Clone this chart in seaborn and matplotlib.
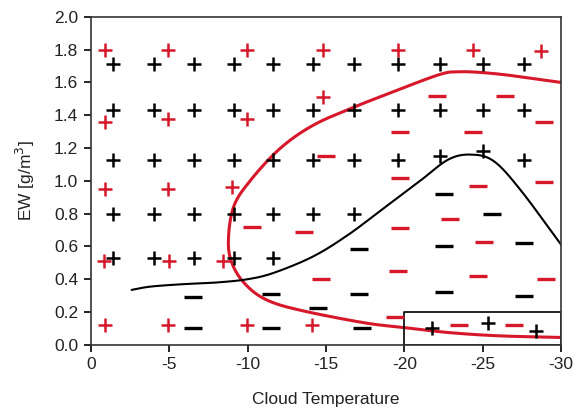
import numpy as np
import pandas as pd
import matplotlib
matplotlib.use("Agg")
import matplotlib.pyplot as plt
import seaborn as sns

# ---- data ----
black_plus_x = [-1.4, -4.0, -6.6, -9.1, -11.6, -14.2, -16.8, -19.6, -22.3, -25.0, -27.6,
                -1.4, -4.0, -6.6, -9.1, -11.6, -14.2, -16.8, -19.6, -22.3, -25.0, -27.6,
                -1.4, -4.0, -6.6, -9.1, -11.6, -14.2, -16.8, -19.6, -22.3, -25.0, -27.6,
                -1.4, -4.0, -6.6, -9.1, -11.6, -14.2, -16.8,
                -1.4, -4.0, -6.6, -9.1, -11.6,
                -21.75, -25.3, -28.4]
black_plus_y = [1.71] * 11 + [1.43] * 11 + \
               [1.13, 1.13, 1.13, 1.13, 1.13, 1.13, 1.13, 1.13, 1.15, 1.18, 1.13] + \
               [0.80] * 7 + [0.53] * 5 + [0.10, 0.135, 0.085]

red_plus_x = [-0.9, -4.93, -9.98, -14.8, -19.6, -24.4, -28.7,
              -0.9, -4.93, -9.98, -14.8,
              -0.9, -4.93, -9.0,
              -0.85, -5.0, -8.45,
              -0.9, -4.93, -9.98, -14.1]
red_plus_y = [1.80, 1.80, 1.80, 1.80, 1.80, 1.80, 1.79,
              1.36, 1.38, 1.38, 1.51,
              0.95, 0.95, 0.96,
              0.51, 0.51, 0.51,
              0.12, 0.12, 0.12, 0.12]

red_minus_x = [-22.1, -26.4, -28.9, -19.7, -24.4, -15.0, -19.7, -24.7, -28.9,
               -10.3, -13.6, -19.7, -22.9, -25.1, -14.7, -19.6, -24.7, -29.0,
               -19.4, -23.5, -27.0]
red_minus_y = [1.52, 1.52, 1.36, 1.30, 1.30, 1.15, 1.02, 0.97, 0.99,
               0.72, 0.69, 0.71, 0.77, 0.63, 0.40, 0.45, 0.42, 0.40,
               0.17, 0.12, 0.12]

black_minus_x = [-22.5, -25.6, -17.1, -22.5, -27.6, -17.1, -22.5, -27.6, -14.5, -17.3,
                 -6.5, -6.5, -11.5, -11.5]
black_minus_y = [0.92, 0.80, 0.585, 0.60, 0.62, 0.31, 0.32, 0.30, 0.225, 0.10,
                 0.29, 0.10, 0.31, 0.10]

red_curve_x = [-30.0, -27.0, -25.0, -23.5, -22.3, -19.6, -16.8, -14.2, -12.1,
               -10.2, -9.1, -8.77, -9.1, -10.0, -11.3, -13.4,
               -17.4, -20.0, -22.8, -26.0, -30.0]
red_curve_y = [1.60, 1.64, 1.66, 1.665, 1.65, 1.555, 1.45, 1.34, 1.20,
               1.005, 0.84, 0.62, 0.475, 0.355, 0.27, 0.21,
               0.135, 0.105, 0.075, 0.055, 0.045]

black_curve_x = [-2.6, -3.8, -5.9, -8.0, -10.0, -11.7, -14.2, -16.4, -18.5,
                 -21.0, -22.8, -24.25, -25.7, -27.4, -30.0]
black_curve_y = [0.335, 0.355, 0.37, 0.38, 0.40, 0.44, 0.54, 0.67, 0.82,
                 1.00, 1.13, 1.16, 1.12, 0.945, 0.61]

box_x = [-20, -30, -30, -20, -20]
box_y = [0.0, 0.0, 0.2, 0.2, 0.0]

x_ticks = [0, -5, -10, -15, -20, -25, -30]
x_tick_labels = ["0", "-5", "-10", "-15", "-20", "-25", "-30"]
y_ticks = [0.0, 0.2, 0.4, 0.6, 0.8, 1.0, 1.2, 1.4, 1.6, 1.8, 2.0]

RED = "#d7182a"

sns.set_theme(style="white")
plt.rcParams["font.family"] = ["Liberation Sans", "DejaVu Sans"]

fig = plt.figure(figsize=(5.75, 4.11), dpi=100)
ax = fig.add_axes([0.158, 0.161, 0.818, 0.798])


def catmull_rom(xs, ys, n=30):
    # centripetal-free uniform Catmull-Rom through the read points (scaled to axes units)
    P = np.column_stack([np.asarray(xs, float) / 30.0, np.asarray(ys, float) / 2.0])
    P = np.vstack([2 * P[0] - P[1], P, 2 * P[-1] - P[-2]])
    out = []
    t = np.linspace(0, 1, n, endpoint=False)[:, None]
    for i in range(1, len(P) - 2):
        p0, p1, p2, p3 = P[i - 1], P[i], P[i + 1], P[i + 2]
        seg = 0.5 * ((2 * p1) + (-p0 + p2) * t + (2 * p0 - 5 * p1 + 4 * p2 - p3) * t ** 2
                     + (-p0 + 3 * p1 - 3 * p2 + p3) * t ** 3)
        out.append(seg)
    out.append(P[-2][None, :])
    out = np.vstack(out)
    return out[:, 0] * 30.0, out[:, 1] * 2.0


rx, ry = catmull_rom(red_curve_x, red_curve_y)
bx, by = catmull_rom(black_curve_x, black_curve_y)
sns.lineplot(x=rx, y=ry, sort=False, estimator=None, color=RED, lw=2.2, ax=ax)
sns.lineplot(x=bx, y=by, sort=False, estimator=None, color="black", lw=1.5, ax=ax)
sns.lineplot(x=box_x, y=box_y, sort=False, estimator=None, color="black", lw=1.2, ax=ax)

sns.scatterplot(x=black_plus_x, y=black_plus_y, marker="+", s=110, color="black", linewidth=1.8, ax=ax, zorder=4)
sns.scatterplot(x=red_plus_x, y=red_plus_y, marker="+", s=110, color=RED, linewidth=1.8, ax=ax, zorder=4)
sns.scatterplot(x=red_minus_x, y=red_minus_y, marker="_", s=160, color=RED, linewidth=2.4, ax=ax, zorder=4)
sns.scatterplot(x=black_minus_x, y=black_minus_y, marker="_", s=160, color="black", linewidth=2.4, ax=ax, zorder=4)

ax.set_xlim(0, -30)
ax.set_ylim(0, 2.0)
ax.set_xticks(x_ticks)
ax.set_xticklabels(x_tick_labels)
ax.set_yticks(y_ticks)
ax.set_yticklabels([f"{v:.1f}" for v in y_ticks])
ax.tick_params(axis="both", which="major", direction="out", length=5, width=1.2,
               labelsize=12.5, color="black", labelcolor="#222222", bottom=True, left=True, pad=4)
for s in ax.spines.values():
    s.set_color("#333333")
    s.set_linewidth(1.2)
ax.set_xlabel("Cloud Temperature", fontsize=12.5, color="#222222", labelpad=14)
ax.set_ylabel("EW [g/m$^3$]", fontsize=12.5, color="#222222", labelpad=12)

fig.savefig("out.png", dpi=100)
